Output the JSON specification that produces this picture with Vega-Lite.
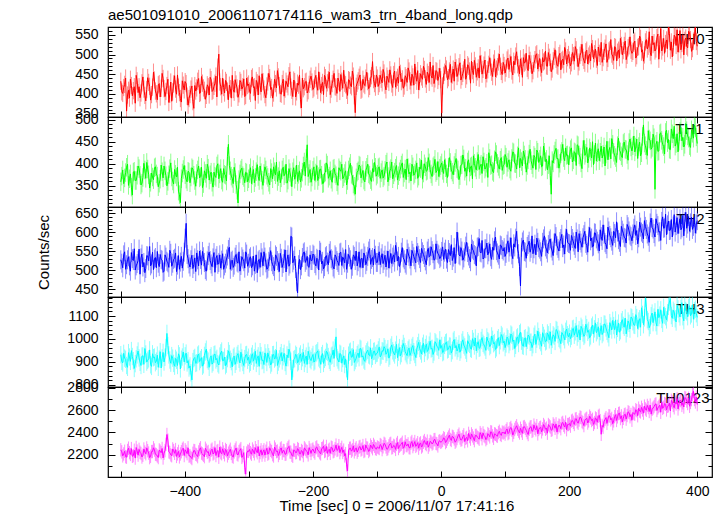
{
"$schema": "https://vega.github.io/schema/vega-lite/v6.json",
"padding": {"left": 35, "top": 8, "right": 5, "bottom": 5},
"background": "white",
"bounds": "flush",
"title": {"text": "ae501091010_20061107174116_wam3_trn_4band_long.qdp", "anchor": "start", "frame": "group", "fontSize": 15, "offset": 0},
"datasets": {
"errs": [{"band":"TH0","err":22},{"band":"TH1","err":21},{"band":"TH2","err":25},{"band":"TH3","err":38},{"band":"TH0123","err":60}]
},
"data": {"values": [
{"t":-500,"TH0":432,"TH1":359,"TH2":528,"TH3":931,"TH0123":2244},
{"t":-497,"TH0":401,"TH1":386,"TH2":507,"TH3":895,"TH0123":2190},
{"t":-494,"TH0":424,"TH1":368,"TH2":549,"TH3":916,"TH0123":2231},
{"t":-491,"TH0":356,"TH1":392,"TH2":515,"TH3":884,"TH0123":2178},
{"t":-488,"TH0":409,"TH1":351,"TH2":536,"TH3":940,"TH0123":2259},
{"t":-485,"TH0":437,"TH1":377,"TH2":498,"TH3":902,"TH0123":2203},
{"t":-482,"TH0":395,"TH1":329,"TH2":531,"TH3":923,"TH0123":2186},
{"t":-479,"TH0":418,"TH1":383,"TH2":557,"TH3":871,"TH0123":2240},
{"t":-476,"TH0":447,"TH1":362,"TH2":512,"TH3":913,"TH0123":2265},
{"t":-473,"TH0":403,"TH1":395,"TH2":526,"TH3":947,"TH0123":2197},
{"t":-470,"TH0":390,"TH1":374,"TH2":490,"TH3":898,"TH0123":2222},
{"t":-467,"TH0":428,"TH1":356,"TH2":543,"TH3":925,"TH0123":2180},
{"t":-464,"TH0":412,"TH1":401,"TH2":521,"TH3":889,"TH0123":2251},
{"t":-461,"TH0":382,"TH1":367,"TH2":505,"TH3":934,"TH0123":2209},
{"t":-458,"TH0":441,"TH1":388,"TH2":538,"TH3":907,"TH0123":2236},
{"t":-455,"TH0":419,"TH1":345,"TH2":563,"TH3":952,"TH0123":2174},
{"t":-452,"TH0":398,"TH1":379,"TH2":517,"TH3":880,"TH0123":2228},
{"t":-449,"TH0":455,"TH1":364,"TH2":502,"TH3":918,"TH0123":2262},
{"t":-446,"TH0":407,"TH1":393,"TH2":534,"TH3":896,"TH0123":2205},
{"t":-443,"TH0":385,"TH1":372,"TH2":550,"TH3":929,"TH0123":2189},
{"t":-440,"TH0":426,"TH1":356,"TH2":510,"TH3":912,"TH0123":2243},
{"t":-437,"TH0":414,"TH1":397,"TH2":529,"TH3":873,"TH0123":2218},
{"t":-434,"TH0":439,"TH1":368,"TH2":495,"TH3":941,"TH0123":2171},
{"t":-431,"TH0":393,"TH1":384,"TH2":541,"TH3":920,"TH0123":2237},
{"t":-428,"TH0":421,"TH1":350,"TH2":524,"TH3":1024,"TH0123":2381},
{"t":-425,"TH0":378,"TH1":375,"TH2":508,"TH3":930,"TH0123":2226},
{"t":-422,"TH0":430,"TH1":402,"TH2":545,"TH3":894,"TH0123":2199},
{"t":-419,"TH0":405,"TH1":361,"TH2":519,"TH3":916,"TH0123":2252},
{"t":-416,"TH0":446,"TH1":387,"TH2":532,"TH3":881,"TH0123":2213},
{"t":-413,"TH0":399,"TH1":370,"TH2":497,"TH3":907,"TH0123":2185},
{"t":-410,"TH0":417,"TH1":338,"TH2":539,"TH3":935,"TH0123":2230},
{"t":-407,"TH0":388,"TH1":312,"TH2":522,"TH3":869,"TH0123":2207},
{"t":-404,"TH0":433,"TH1":379,"TH2":506,"TH3":921,"TH0123":2248},
{"t":-401,"TH0":410,"TH1":396,"TH2":548,"TH3":899,"TH0123":2193},
{"t":-398,"TH0":426,"TH1":365,"TH2":624,"TH3":938,"TH0123":2229},
{"t":-395,"TH0":371,"TH1":383,"TH2":531,"TH3":905,"TH0123":2262},
{"t":-392,"TH0":398,"TH1":357,"TH2":509,"TH3":882,"TH0123":2191},
{"t":-389,"TH0":420,"TH1":391,"TH2":540,"TH3":821,"TH0123":2166},
{"t":-386,"TH0":363,"TH1":374,"TH2":516,"TH3":914,"TH0123":2238},
{"t":-383,"TH0":407,"TH1":349,"TH2":497,"TH3":893,"TH0123":2204},
{"t":-380,"TH0":432,"TH1":386,"TH2":528,"TH3":929,"TH0123":2183},
{"t":-377,"TH0":401,"TH1":368,"TH2":551,"TH3":901,"TH0123":2247},
{"t":-374,"TH0":444,"TH1":392,"TH2":514,"TH3":918,"TH0123":2215},
{"t":-371,"TH0":415,"TH1":355,"TH2":536,"TH3":887,"TH0123":2196},
{"t":-368,"TH0":386,"TH1":378,"TH2":502,"TH3":943,"TH0123":2258},
{"t":-365,"TH0":423,"TH1":399,"TH2":525,"TH3":910,"TH0123":2221},
{"t":-362,"TH0":397,"TH1":363,"TH2":548,"TH3":876,"TH0123":2189},
{"t":-359,"TH0":436,"TH1":381,"TH2":517,"TH3":926,"TH0123":2240},
{"t":-356,"TH0":409,"TH1":347,"TH2":533,"TH3":897,"TH0123":2207},
{"t":-353,"TH0":427,"TH1":372,"TH2":495,"TH3":934,"TH0123":2264},
{"t":-350,"TH0":392,"TH1":395,"TH2":539,"TH3":915,"TH0123":2230},
{"t":-347,"TH0":501,"TH1":366,"TH2":521,"TH3":886,"TH0123":2178},
{"t":-344,"TH0":418,"TH1":389,"TH2":506,"TH3":939,"TH0123":2219},
{"t":-341,"TH0":440,"TH1":358,"TH2":544,"TH3":904,"TH0123":2253},
{"t":-338,"TH0":402,"TH1":376,"TH2":512,"TH3":921,"TH0123":2200},
{"t":-335,"TH0":429,"TH1":361,"TH2":530,"TH3":890,"TH0123":2236},
{"t":-332,"TH0":385,"TH1":444,"TH2":555,"TH3":948,"TH0123":2214},
{"t":-329,"TH0":413,"TH1":384,"TH2":503,"TH3":911,"TH0123":2249},
{"t":-326,"TH0":447,"TH1":367,"TH2":527,"TH3":878,"TH0123":2187},
{"t":-323,"TH0":404,"TH1":392,"TH2":514,"TH3":925,"TH0123":2225},
{"t":-320,"TH0":425,"TH1":353,"TH2":542,"TH3":902,"TH0123":2260},
{"t":-317,"TH0":391,"TH1":311,"TH2":519,"TH3":936,"TH0123":2198},
{"t":-314,"TH0":434,"TH1":377,"TH2":498,"TH3":895,"TH0123":2241},
{"t":-311,"TH0":412,"TH1":390,"TH2":536,"TH3":917,"TH0123":2176},
{"t":-308,"TH0":438,"TH1":369,"TH2":523,"TH3":884,"TH0123":2219},
{"t":-305,"TH0":396,"TH1":381,"TH2":549,"TH3":930,"TH0123":2026},
{"t":-302,"TH0":421,"TH1":359,"TH2":511,"TH3":907,"TH0123":2233},
{"t":-299,"TH0":407,"TH1":378,"TH2":532,"TH3":891,"TH0123":2247},
{"t":-296,"TH0":439,"TH1":355,"TH2":507,"TH3":924,"TH0123":2205},
{"t":-293,"TH0":416,"TH1":387,"TH2":538,"TH3":903,"TH0123":2232},
{"t":-290,"TH0":383,"TH1":369,"TH2":516,"TH3":946,"TH0123":2263},
{"t":-287,"TH0":428,"TH1":398,"TH2":494,"TH3":915,"TH0123":2218},
{"t":-284,"TH0":446,"TH1":362,"TH2":529,"TH3":880,"TH0123":2189},
{"t":-281,"TH0":405,"TH1":380,"TH2":547,"TH3":927,"TH0123":2244},
{"t":-278,"TH0":431,"TH1":351,"TH2":512,"TH3":908,"TH0123":2226},
{"t":-275,"TH0":398,"TH1":393,"TH2":535,"TH3":939,"TH0123":2197},
{"t":-272,"TH0":420,"TH1":374,"TH2":503,"TH3":897,"TH0123":2258},
{"t":-269,"TH0":452,"TH1":358,"TH2":524,"TH3":922,"TH0123":2215},
{"t":-266,"TH0":411,"TH1":389,"TH2":552,"TH3":886,"TH0123":2240},
{"t":-263,"TH0":389,"TH1":366,"TH2":515,"TH3":931,"TH0123":2201},
{"t":-260,"TH0":437,"TH1":382,"TH2":499,"TH3":912,"TH0123":2269},
{"t":-257,"TH0":415,"TH1":404,"TH2":537,"TH3":950,"TH0123":2228},
{"t":-254,"TH0":443,"TH1":371,"TH2":520,"TH3":899,"TH0123":2193},
{"t":-251,"TH0":401,"TH1":357,"TH2":545,"TH3":926,"TH0123":2251},
{"t":-248,"TH0":426,"TH1":386,"TH2":508,"TH3":904,"TH0123":2214},
{"t":-245,"TH0":394,"TH1":373,"TH2":531,"TH3":937,"TH0123":2236},
{"t":-242,"TH0":432,"TH1":399,"TH2":496,"TH3":881,"TH0123":2207},
{"t":-239,"TH0":418,"TH1":363,"TH2":541,"TH3":918,"TH0123":2262},
{"t":-236,"TH0":456,"TH1":380,"TH2":517,"TH3":943,"TH0123":2225},
{"t":-233,"TH0":409,"TH1":348,"TH2":588,"TH3":821,"TH0123":2196},
{"t":-230,"TH0":435,"TH1":391,"TH2":527,"TH3":910,"TH0123":2243},
{"t":-227,"TH0":392,"TH1":375,"TH2":505,"TH3":933,"TH0123":2218},
{"t":-224,"TH0":427,"TH1":360,"TH2":441,"TH3":896,"TH0123":2255},
{"t":-221,"TH0":448,"TH1":384,"TH2":529,"TH3":924,"TH0123":2209},
{"t":-218,"TH0":364,"TH1":367,"TH2":512,"TH3":902,"TH0123":2238},
{"t":-215,"TH0":413,"TH1":395,"TH2":546,"TH3":941,"TH0123":2193},
{"t":-212,"TH0":430,"TH1":372,"TH2":521,"TH3":914,"TH0123":2250},
{"t":-209,"TH0":402,"TH1":443,"TH2":537,"TH3":889,"TH0123":2227},
{"t":-206,"TH0":424,"TH1":378,"TH2":508,"TH3":928,"TH0123":2264},
{"t":-203,"TH0":445,"TH1":358,"TH2":526,"TH3":905,"TH0123":2212},
{"t":-200,"TH0":411,"TH1":385,"TH2":543,"TH3":932,"TH0123":2251},
{"t":-197,"TH0":438,"TH1":362,"TH2":518,"TH3":904,"TH0123":2215},
{"t":-194,"TH0":420,"TH1":396,"TH2":532,"TH3":940,"TH0123":2270},
{"t":-191,"TH0":456,"TH1":371,"TH2":501,"TH3":917,"TH0123":2236},
{"t":-188,"TH0":403,"TH1":388,"TH2":548,"TH3":889,"TH0123":2208},
{"t":-185,"TH0":429,"TH1":355,"TH2":524,"TH3":936,"TH0123":2259},
{"t":-182,"TH0":447,"TH1":379,"TH2":510,"TH3":911,"TH0123":2229},
{"t":-179,"TH0":414,"TH1":402,"TH2":539,"TH3":946,"TH0123":2274},
{"t":-176,"TH0":436,"TH1":367,"TH2":515,"TH3":923,"TH0123":2240},
{"t":-173,"TH0":398,"TH1":384,"TH2":552,"TH3":898,"TH0123":2213},
{"t":-170,"TH0":426,"TH1":358,"TH2":527,"TH3":929,"TH0123":2262},
{"t":-167,"TH0":452,"TH1":390,"TH2":504,"TH3":915,"TH0123":2233},
{"t":-164,"TH0":417,"TH1":373,"TH2":536,"TH3":1009,"TH0123":2286},
{"t":-161,"TH0":440,"TH1":351,"TH2":521,"TH3":908,"TH0123":2245},
{"t":-158,"TH0":406,"TH1":386,"TH2":546,"TH3":937,"TH0123":2219},
{"t":-155,"TH0":432,"TH1":399,"TH2":513,"TH3":894,"TH0123":2266},
{"t":-152,"TH0":460,"TH1":370,"TH2":530,"TH3":926,"TH0123":2241},
{"t":-149,"TH0":423,"TH1":384,"TH2":555,"TH3":913,"TH0123":2210},
{"t":-146,"TH0":396,"TH1":362,"TH2":519,"TH3":821,"TH0123":2055},
{"t":-143,"TH0":434,"TH1":393,"TH2":535,"TH3":942,"TH0123":2257},
{"t":-140,"TH0":418,"TH1":376,"TH2":503,"TH3":920,"TH0123":2232},
{"t":-137,"TH0":445,"TH1":354,"TH2":541,"TH3":953,"TH0123":2279},
{"t":-134,"TH0":352,"TH1":331,"TH2":526,"TH3":905,"TH0123":2248},
{"t":-131,"TH0":427,"TH1":381,"TH2":512,"TH3":931,"TH0123":2223},
{"t":-128,"TH0":442,"TH1":397,"TH2":549,"TH3":918,"TH0123":2268},
{"t":-125,"TH0":409,"TH1":368,"TH2":530,"TH3":955,"TH0123":2242},
{"t":-122,"TH0":437,"TH1":385,"TH2":507,"TH3":926,"TH0123":2282},
{"t":-119,"TH0":421,"TH1":359,"TH2":538,"TH3":902,"TH0123":2236},
{"t":-116,"TH0":455,"TH1":392,"TH2":524,"TH3":944,"TH0123":2261},
{"t":-113,"TH0":413,"TH1":377,"TH2":551,"TH3":930,"TH0123":2229},
{"t":-110,"TH0":439,"TH1":364,"TH2":516,"TH3":961,"TH0123":2287},
{"t":-107,"TH0":482,"TH1":389,"TH2":534,"TH3":924,"TH0123":2254},
{"t":-104,"TH0":426,"TH1":403,"TH2":556,"TH3":947,"TH0123":2276},
{"t":-101,"TH0":448,"TH1":372,"TH2":521,"TH3":936,"TH0123":2250},
{"t":-98,"TH0":419,"TH1":391,"TH2":539,"TH3":952,"TH0123":2263},
{"t":-95,"TH0":447,"TH1":367,"TH2":515,"TH3":921,"TH0123":2291},
{"t":-92,"TH0":428,"TH1":386,"TH2":544,"TH3":948,"TH0123":2246},
{"t":-89,"TH0":453,"TH1":372,"TH2":527,"TH3":966,"TH0123":2302},
{"t":-86,"TH0":410,"TH1":399,"TH2":509,"TH3":933,"TH0123":2270},
{"t":-83,"TH0":438,"TH1":359,"TH2":551,"TH3":957,"TH0123":2255},
{"t":-80,"TH0":461,"TH1":384,"TH2":530,"TH3":925,"TH0123":2296},
{"t":-77,"TH0":425,"TH1":404,"TH2":518,"TH3":974,"TH0123":2261},
{"t":-74,"TH0":449,"TH1":375,"TH2":541,"TH3":939,"TH0123":2284},
{"t":-71,"TH0":417,"TH1":390,"TH2":566,"TH3":951,"TH0123":2248},
{"t":-68,"TH0":442,"TH1":363,"TH2":525,"TH3":918,"TH0123":2309},
{"t":-65,"TH0":470,"TH1":382,"TH2":510,"TH3":962,"TH0123":2277},
{"t":-62,"TH0":431,"TH1":397,"TH2":548,"TH3":936,"TH0123":2295},
{"t":-59,"TH0":414,"TH1":369,"TH2":533,"TH3":980,"TH0123":2258},
{"t":-56,"TH0":446,"TH1":388,"TH2":519,"TH3":944,"TH0123":2316},
{"t":-53,"TH0":429,"TH1":411,"TH2":556,"TH3":927,"TH0123":2281},
{"t":-50,"TH0":458,"TH1":377,"TH2":537,"TH3":960,"TH0123":2264},
{"t":-47,"TH0":421,"TH1":361,"TH2":512,"TH3":941,"TH0123":2304},
{"t":-44,"TH0":443,"TH1":393,"TH2":545,"TH3":971,"TH0123":2273},
{"t":-41,"TH0":476,"TH1":378,"TH2":528,"TH3":932,"TH0123":2318},
{"t":-38,"TH0":432,"TH1":402,"TH2":563,"TH3":955,"TH0123":2287},
{"t":-35,"TH0":410,"TH1":372,"TH2":540,"TH3":985,"TH0123":2259},
{"t":-32,"TH0":451,"TH1":389,"TH2":521,"TH3":948,"TH0123":2306},
{"t":-29,"TH0":437,"TH1":365,"TH2":549,"TH3":968,"TH0123":2280},
{"t":-26,"TH0":462,"TH1":400,"TH2":534,"TH3":937,"TH0123":2327},
{"t":-23,"TH0":424,"TH1":383,"TH2":515,"TH3":977,"TH0123":2291},
{"t":-20,"TH0":449,"TH1":414,"TH2":558,"TH3":952,"TH0123":2268},
{"t":-17,"TH0":481,"TH1":387,"TH2":539,"TH3":990,"TH0123":2320},
{"t":-14,"TH0":440,"TH1":371,"TH2":552,"TH3":959,"TH0123":2296},
{"t":-11,"TH0":426,"TH1":396,"TH2":527,"TH3":943,"TH0123":2334},
{"t":-8,"TH0":459,"TH1":380,"TH2":570,"TH3":982,"TH0123":2302},
{"t":-5,"TH0":434,"TH1":405,"TH2":545,"TH3":964,"TH0123":2279},
{"t":-2,"TH0":465,"TH1":390,"TH2":531,"TH3":996,"TH0123":2325},
{"t":1,"TH0":351,"TH1":402,"TH2":550,"TH3":971,"TH0123":2318},
{"t":4,"TH0":447,"TH1":378,"TH2":529,"TH3":944,"TH0123":2352},
{"t":7,"TH0":472,"TH1":391,"TH2":556,"TH3":983,"TH0123":2309},
{"t":10,"TH0":436,"TH1":369,"TH2":521,"TH3":952,"TH0123":2341},
{"t":13,"TH0":458,"TH1":414,"TH2":547,"TH3":969,"TH0123":2376},
{"t":16,"TH0":429,"TH1":386,"TH2":568,"TH3":938,"TH0123":2328},
{"t":19,"TH0":463,"TH1":375,"TH2":535,"TH3":990,"TH0123":2359},
{"t":22,"TH0":481,"TH1":403,"TH2":518,"TH3":961,"TH0123":2312},
{"t":25,"TH0":444,"TH1":389,"TH2":601,"TH3":947,"TH0123":2345},
{"t":28,"TH0":469,"TH1":364,"TH2":541,"TH3":978,"TH0123":2384},
{"t":31,"TH0":435,"TH1":397,"TH2":560,"TH3":953,"TH0123":2331},
{"t":34,"TH0":452,"TH1":420,"TH2":527,"TH3":996,"TH0123":2362},
{"t":37,"TH0":488,"TH1":383,"TH2":549,"TH3":965,"TH0123":2318},
{"t":40,"TH0":446,"TH1":372,"TH2":574,"TH3":937,"TH0123":2355},
{"t":43,"TH0":470,"TH1":409,"TH2":538,"TH3":982,"TH0123":2391},
{"t":46,"TH0":427,"TH1":393,"TH2":523,"TH3":958,"TH0123":2340},
{"t":49,"TH0":459,"TH1":366,"TH2":556,"TH3":1001,"TH0123":2369},
{"t":52,"TH0":485,"TH1":401,"TH2":542,"TH3":969,"TH0123":2326},
{"t":55,"TH0":442,"TH1":386,"TH2":512,"TH3":948,"TH0123":2374},
{"t":58,"TH0":466,"TH1":421,"TH2":563,"TH3":988,"TH0123":2351},
{"t":61,"TH0":497,"TH1":395,"TH2":548,"TH3":962,"TH0123":2398},
{"t":64,"TH0":450,"TH1":378,"TH2":579,"TH3":1006,"TH0123":2344},
{"t":67,"TH0":473,"TH1":404,"TH2":533,"TH3":974,"TH0123":2371},
{"t":70,"TH0":438,"TH1":392,"TH2":557,"TH3":950,"TH0123":2335},
{"t":73,"TH0":461,"TH1":369,"TH2":541,"TH3":992,"TH0123":2389},
{"t":76,"TH0":492,"TH1":412,"TH2":570,"TH3":966,"TH0123":2360},
{"t":79,"TH0":455,"TH1":398,"TH2":529,"TH3":1013,"TH0123":2402},
{"t":82,"TH0":478,"TH1":380,"TH2":553,"TH3":979,"TH0123":2347},
{"t":85,"TH0":443,"TH1":427,"TH2":588,"TH3":954,"TH0123":2383},
{"t":88,"TH0":469,"TH1":401,"TH2":546,"TH3":997,"TH0123":2366},
{"t":91,"TH0":501,"TH1":388,"TH2":530,"TH3":971,"TH0123":2410},
{"t":94,"TH0":457,"TH1":414,"TH2":565,"TH3":1019,"TH0123":2373},
{"t":97,"TH0":480,"TH1":396,"TH2":551,"TH3":983,"TH0123":2394},
{"t":100,"TH0":453,"TH1":421,"TH2":537,"TH3":962,"TH0123":2385},
{"t":103,"TH0":486,"TH1":392,"TH2":569,"TH3":1008,"TH0123":2431},
{"t":106,"TH0":462,"TH1":409,"TH2":548,"TH3":975,"TH0123":2398},
{"t":109,"TH0":495,"TH1":383,"TH2":586,"TH3":1021,"TH0123":2444},
{"t":112,"TH0":448,"TH1":427,"TH2":531,"TH3":989,"TH0123":2376},
{"t":115,"TH0":474,"TH1":401,"TH2":562,"TH3":958,"TH0123":2426},
{"t":118,"TH0":507,"TH1":388,"TH2":603,"TH3":1004,"TH0123":2459},
{"t":121,"TH0":466,"TH1":436,"TH2":544,"TH3":980,"TH0123":2411},
{"t":124,"TH0":489,"TH1":412,"TH2":459,"TH3":1029,"TH0123":2437},
{"t":127,"TH0":442,"TH1":395,"TH2":575,"TH3":971,"TH0123":2392},
{"t":130,"TH0":478,"TH1":420,"TH2":550,"TH3":1001,"TH0123":2452},
{"t":133,"TH0":503,"TH1":381,"TH2":532,"TH3":966,"TH0123":2418},
{"t":136,"TH0":459,"TH1":409,"TH2":568,"TH3":1017,"TH0123":2381},
{"t":139,"TH0":485,"TH1":433,"TH2":548,"TH3":985,"TH0123":2446},
{"t":142,"TH0":451,"TH1":398,"TH2":591,"TH3":962,"TH0123":2409},
{"t":145,"TH0":477,"TH1":419,"TH2":557,"TH3":1011,"TH0123":2465},
{"t":148,"TH0":499,"TH1":387,"TH2":541,"TH3":976,"TH0123":2423},
{"t":151,"TH0":463,"TH1":426,"TH2":574,"TH3":1034,"TH0123":2387},
{"t":154,"TH0":490,"TH1":410,"TH2":556,"TH3":993,"TH0123":2441},
{"t":157,"TH0":454,"TH1":393,"TH2":537,"TH3":968,"TH0123":2405},
{"t":160,"TH0":481,"TH1":440,"TH2":583,"TH3":1015,"TH0123":2470},
{"t":163,"TH0":509,"TH1":405,"TH2":562,"TH3":987,"TH0123":2428},
{"t":166,"TH0":470,"TH1":386,"TH2":546,"TH3":1026,"TH0123":2393},
{"t":169,"TH0":493,"TH1":418,"TH2":578,"TH3":996,"TH0123":2459},
{"t":172,"TH0":456,"TH1":331,"TH2":559,"TH3":972,"TH0123":2419},
{"t":175,"TH0":484,"TH1":402,"TH2":539,"TH3":1018,"TH0123":2476},
{"t":178,"TH0":512,"TH1":429,"TH2":597,"TH3":989,"TH0123":2437},
{"t":181,"TH0":473,"TH1":411,"TH2":565,"TH3":1037,"TH0123":2402},
{"t":184,"TH0":497,"TH1":390,"TH2":551,"TH3":1002,"TH0123":2465},
{"t":187,"TH0":461,"TH1":423,"TH2":584,"TH3":979,"TH0123":2433},
{"t":190,"TH0":488,"TH1":444,"TH2":560,"TH3":1021,"TH0123":2489},
{"t":193,"TH0":518,"TH1":407,"TH2":543,"TH3":996,"TH0123":2448},
{"t":196,"TH0":476,"TH1":419,"TH2":608,"TH3":1043,"TH0123":2424},
{"t":199,"TH0":500,"TH1":398,"TH2":571,"TH3":1009,"TH0123":2471},
{"t":202,"TH0":471,"TH1":432,"TH2":553,"TH3":1001,"TH0123":2456},
{"t":205,"TH0":505,"TH1":404,"TH2":584,"TH3":1043,"TH0123":2508},
{"t":208,"TH0":483,"TH1":427,"TH2":566,"TH3":1016,"TH0123":2471},
{"t":211,"TH0":512,"TH1":396,"TH2":601,"TH3":1058,"TH0123":2523},
{"t":214,"TH0":469,"TH1":441,"TH2":549,"TH3":1024,"TH0123":2482},
{"t":217,"TH0":498,"TH1":415,"TH2":579,"TH3":995,"TH0123":2537},
{"t":220,"TH0":526,"TH1":389,"TH2":561,"TH3":1047,"TH0123":2497},
{"t":223,"TH0":485,"TH1":453,"TH2":594,"TH3":1011,"TH0123":2461},
{"t":226,"TH0":507,"TH1":424,"TH2":571,"TH3":1064,"TH0123":2519},
{"t":229,"TH0":476,"TH1":402,"TH2":548,"TH3":1029,"TH0123":2484},
{"t":232,"TH0":501,"TH1":436,"TH2":613,"TH3":1005,"TH0123":2545},
{"t":235,"TH0":528,"TH1":413,"TH2":585,"TH3":1052,"TH0123":2506},
{"t":238,"TH0":489,"TH1":398,"TH2":564,"TH3":1021,"TH0123":2472},
{"t":241,"TH0":514,"TH1":447,"TH2":598,"TH3":1070,"TH0123":2529},
{"t":244,"TH0":472,"TH1":425,"TH2":577,"TH3":1036,"TH0123":2491},
{"t":247,"TH0":503,"TH1":407,"TH2":551,"TH3":1009,"TH0123":2553},
{"t":250,"TH0":531,"TH1":440,"TH2":589,"TH3":1058,"TH0123":2383},
{"t":253,"TH0":492,"TH1":421,"TH2":620,"TH3":1027,"TH0123":2447},
{"t":256,"TH0":516,"TH1":395,"TH2":573,"TH3":1064,"TH0123":2516},
{"t":259,"TH0":480,"TH1":451,"TH2":557,"TH3":1033,"TH0123":2481},
{"t":262,"TH0":509,"TH1":430,"TH2":604,"TH3":1005,"TH0123":2549},
{"t":265,"TH0":538,"TH1":411,"TH2":586,"TH3":1056,"TH0123":2512},
{"t":268,"TH0":496,"TH1":444,"TH2":566,"TH3":1081,"TH0123":2478},
{"t":271,"TH0":520,"TH1":419,"TH2":597,"TH3":1040,"TH0123":2541},
{"t":274,"TH0":484,"TH1":403,"TH2":628,"TH3":1017,"TH0123":2507},
{"t":277,"TH0":511,"TH1":458,"TH2":581,"TH3":1069,"TH0123":2568},
{"t":280,"TH0":541,"TH1":427,"TH2":563,"TH3":1036,"TH0123":2524},
{"t":283,"TH0":499,"TH1":414,"TH2":606,"TH3":1084,"TH0123":2495},
{"t":286,"TH0":523,"TH1":449,"TH2":587,"TH3":1051,"TH0123":2557},
{"t":289,"TH0":487,"TH1":432,"TH2":572,"TH3":1022,"TH0123":2519},
{"t":292,"TH0":517,"TH1":408,"TH2":615,"TH3":1078,"TH0123":2584},
{"t":295,"TH0":545,"TH1":456,"TH2":593,"TH3":1043,"TH0123":2540},
{"t":298,"TH0":503,"TH1":429,"TH2":578,"TH3":1092,"TH0123":2509},
{"t":301,"TH0":529,"TH1":463,"TH2":611,"TH3":1061,"TH0123":2568},
{"t":304,"TH0":491,"TH1":438,"TH2":592,"TH3":1106,"TH0123":2603},
{"t":307,"TH0":518,"TH1":412,"TH2":570,"TH3":1045,"TH0123":2549},
{"t":310,"TH0":547,"TH1":449,"TH2":627,"TH3":1088,"TH0123":2591},
{"t":313,"TH0":506,"TH1":425,"TH2":601,"TH3":1136,"TH0123":2624},
{"t":316,"TH0":483,"TH1":488,"TH2":583,"TH3":1062,"TH0123":2572},
{"t":319,"TH0":532,"TH1":441,"TH2":616,"TH3":1177,"TH0123":2610},
{"t":322,"TH0":514,"TH1":419,"TH2":596,"TH3":1084,"TH0123":2641},
{"t":325,"TH0":558,"TH1":456,"TH2":574,"TH3":1049,"TH0123":2587},
{"t":328,"TH0":497,"TH1":433,"TH2":638,"TH3":1101,"TH0123":2563},
{"t":331,"TH0":525,"TH1":467,"TH2":609,"TH3":1071,"TH0123":2618},
{"t":334,"TH0":509,"TH1":342,"TH2":588,"TH3":1118,"TH0123":2649},
{"t":337,"TH0":543,"TH1":451,"TH2":624,"TH3":1056,"TH0123":2596},
{"t":340,"TH0":488,"TH1":429,"TH2":601,"TH3":1093,"TH0123":2632},
{"t":343,"TH0":566,"TH1":470,"TH2":579,"TH3":1127,"TH0123":2580},
{"t":346,"TH0":519,"TH1":444,"TH2":641,"TH3":1068,"TH0123":2615},
{"t":349,"TH0":503,"TH1":422,"TH2":612,"TH3":1104,"TH0123":2658},
{"t":352,"TH0":537,"TH1":476,"TH2":594,"TH3":1083,"TH0123":2601},
{"t":355,"TH0":572,"TH1":455,"TH2":630,"TH3":1142,"TH0123":2638},
{"t":358,"TH0":511,"TH1":432,"TH2":606,"TH3":1176,"TH0123":2592},
{"t":361,"TH0":494,"TH1":468,"TH2":588,"TH3":1090,"TH0123":2671},
{"t":364,"TH0":549,"TH1":485,"TH2":647,"TH3":1117,"TH0123":2620},
{"t":367,"TH0":523,"TH1":446,"TH2":618,"TH3":1074,"TH0123":2654},
{"t":370,"TH0":506,"TH1":427,"TH2":597,"TH3":1131,"TH0123":2610},
{"t":373,"TH0":561,"TH1":473,"TH2":636,"TH3":1096,"TH0123":2689},
{"t":376,"TH0":528,"TH1":452,"TH2":612,"TH3":1158,"TH0123":2641},
{"t":379,"TH0":499,"TH1":438,"TH2":591,"TH3":1079,"TH0123":2627},
{"t":382,"TH0":542,"TH1":491,"TH2":653,"TH3":1124,"TH0123":2706},
{"t":385,"TH0":517,"TH1":463,"TH2":622,"TH3":1097,"TH0123":2658},
{"t":388,"TH0":556,"TH1":441,"TH2":603,"TH3":1145,"TH0123":2634},
{"t":391,"TH0":508,"TH1":477,"TH2":640,"TH3":1109,"TH0123":2693},
{"t":394,"TH0":534,"TH1":458,"TH2":616,"TH3":1086,"TH0123":2768},
{"t":397,"TH0":569,"TH1":482,"TH2":598,"TH3":1130,"TH0123":2672},
{"t":400,"TH0":521,"TH1":446,"TH2":631,"TH3":1094,"TH0123":2649},
{"t":-498.5,"TH0":405,"TH1":372,"TH2":519,"TH3":902,"TH0123":2226},
{"t":-495.5,"TH0":416,"TH1":355,"TH2":541,"TH3":937,"TH0123":2207},
{"t":-492.5,"TH0":440,"TH1":380,"TH2":503,"TH3":911,"TH0123":2183},
{"t":-489.5,"TH0":397,"TH1":399,"TH2":528,"TH3":876,"TH0123":2238},
{"t":-486.5,"TH0":389,"TH1":366,"TH2":512,"TH3":921,"TH0123":2219},
{"t":-483.5,"TH0":421,"TH1":347,"TH2":547,"TH3":949,"TH0123":2255},
{"t":-480.5,"TH0":408,"TH1":381,"TH2":526,"TH3":905,"TH0123":2192},
{"t":-477.5,"TH0":376,"TH1":362,"TH2":501,"TH3":892,"TH0123":2170},
{"t":-474.5,"TH0":433,"TH1":374,"TH2":518,"TH3":930,"TH0123":2233},
{"t":-471.5,"TH0":418,"TH1":389,"TH2":556,"TH3":917,"TH0123":2248},
{"t":-468.5,"TH0":402,"TH1":352,"TH2":533,"TH3":884,"TH0123":2211},
{"t":-465.5,"TH0":443,"TH1":369,"TH2":509,"TH3":926,"TH0123":2196},
{"t":-462.5,"TH0":396,"TH1":386,"TH2":494,"TH3":958,"TH0123":2224},
{"t":-459.5,"TH0":411,"TH1":403,"TH2":539,"TH3":899,"TH0123":2261},
{"t":-456.5,"TH0":429,"TH1":375,"TH2":525,"TH3":913,"TH0123":2215},
{"t":-453.5,"TH0":384,"TH1":358,"TH2":512,"TH3":887,"TH0123":2187},
{"t":-450.5,"TH0":417,"TH1":370,"TH2":548,"TH3":935,"TH0123":2229},
{"t":-447.5,"TH0":435,"TH1":391,"TH2":530,"TH3":921,"TH0123":2242},
{"t":-444.5,"TH0":400,"TH1":377,"TH2":507,"TH3":903,"TH0123":2201},
{"t":-441.5,"TH0":423,"TH1":348,"TH2":519,"TH3":876,"TH0123":2175},
{"t":-438.5,"TH0":392,"TH1":365,"TH2":542,"TH3":944,"TH0123":2232},
{"t":-435.5,"TH0":452,"TH1":382,"TH2":527,"TH3":917,"TH0123":2256},
{"t":-432.5,"TH0":413,"TH1":395,"TH2":498,"TH3":899,"TH0123":2214},
{"t":-429.5,"TH0":406,"TH1":373,"TH2":535,"TH3":962,"TH0123":2293},
{"t":-426.5,"TH0":437,"TH1":360,"TH2":520,"TH3":971,"TH0123":2330},
{"t":-423.5,"TH0":399,"TH1":389,"TH2":553,"TH3":908,"TH0123":2219},
{"t":-420.5,"TH0":381,"TH1":370,"TH2":511,"TH3":927,"TH0123":2191},
{"t":-417.5,"TH0":425,"TH1":354,"TH2":529,"TH3":893,"TH0123":2237},
{"t":-414.5,"TH0":412,"TH1":376,"TH2":546,"TH3":915,"TH0123":2246},
{"t":-411.5,"TH0":448,"TH1":392,"TH2":514,"TH3":884,"TH0123":2208},
{"t":-408.5,"TH0":403,"TH1":330,"TH2":503,"TH3":926,"TH0123":2181},
{"t":-405.5,"TH0":379,"TH1":366,"TH2":537,"TH3":911,"TH0123":2227},
{"t":-402.5,"TH0":422,"TH1":387,"TH2":524,"TH3":943,"TH0123":2259},
{"t":-399.5,"TH0":431,"TH1":375,"TH2":585,"TH3":926,"TH0123":2244},
{"t":-396.5,"TH0":394,"TH1":359,"TH2":542,"TH3":895,"TH0123":2210},
{"t":-393.5,"TH0":388,"TH1":381,"TH2":517,"TH3":873,"TH0123":2188},
{"t":-390.5,"TH0":412,"TH1":370,"TH2":528,"TH3":852,"TH0123":2176},
{"t":-387.5,"TH0":380,"TH1":388,"TH2":505,"TH3":901,"TH0123":2213},
{"t":-384.5,"TH0":421,"TH1":362,"TH2":533,"TH3":919,"TH0123":2235},
{"t":-381.5,"TH0":415,"TH1":378,"TH2":546,"TH3":896,"TH0123":2198},
{"t":-378.5,"TH0":439,"TH1":395,"TH2":512,"TH3":934,"TH0123":2225},
{"t":-375.5,"TH0":403,"TH1":371,"TH2":529,"TH3":910,"TH0123":2262},
{"t":-372.5,"TH0":427,"TH1":346,"TH2":550,"TH3":881,"TH0123":2207},
{"t":-369.5,"TH0":409,"TH1":384,"TH2":521,"TH3":928,"TH0123":2183},
{"t":-366.5,"TH0":396,"TH1":367,"TH2":498,"TH3":955,"TH0123":2240},
{"t":-363.5,"TH0":418,"TH1":390,"TH2":539,"TH3":903,"TH0123":2229},
{"t":-360.5,"TH0":442,"TH1":375,"TH2":526,"TH3":918,"TH0123":2201},
{"t":-357.5,"TH0":406,"TH1":358,"TH2":510,"TH3":890,"TH0123":2250},
{"t":-354.5,"TH0":419,"TH1":381,"TH2":547,"TH3":931,"TH0123":2216},
{"t":-351.5,"TH0":445,"TH1":369,"TH2":532,"TH3":908,"TH0123":2193},
{"t":-348.5,"TH0":468,"TH1":400,"TH2":516,"TH3":892,"TH0123":2237},
{"t":-345.5,"TH0":430,"TH1":377,"TH2":541,"TH3":925,"TH0123":2268},
{"t":-342.5,"TH0":399,"TH1":363,"TH2":527,"TH3":947,"TH0123":2209},
{"t":-339.5,"TH0":416,"TH1":389,"TH2":503,"TH3":906,"TH0123":2224},
{"t":-336.5,"TH0":434,"TH1":374,"TH2":519,"TH3":883,"TH0123":2247},
{"t":-333.5,"TH0":407,"TH1":417,"TH2":538,"TH3":914,"TH0123":2190},
{"t":-330.5,"TH0":422,"TH1":396,"TH2":561,"TH3":936,"TH0123":2231},
{"t":-327.5,"TH0":389,"TH1":372,"TH2":524,"TH3":901,"TH0123":2212},
{"t":-324.5,"TH0":411,"TH1":355,"TH2":508,"TH3":919,"TH0123":2179},
{"t":-321.5,"TH0":436,"TH1":380,"TH2":535,"TH3":889,"TH0123":2243},
{"t":-318.5,"TH0":415,"TH1":340,"TH2":522,"TH3":928,"TH0123":2206},
{"t":-315.5,"TH0":400,"TH1":364,"TH2":549,"TH3":911,"TH0123":2228},
{"t":-312.5,"TH0":429,"TH1":386,"TH2":513,"TH3":942,"TH0123":2255},
{"t":-309.5,"TH0":418,"TH1":373,"TH2":530,"TH3":897,"TH0123":2191},
{"t":-306.5,"TH0":393,"TH1":357,"TH2":506,"TH3":914,"TH0123":2087},
{"t":-303.5,"TH0":440,"TH1":379,"TH2":543,"TH3":932,"TH0123":2215},
{"t":-300.5,"TH0":425,"TH1":366,"TH2":519,"TH3":920,"TH0123":2230},
{"t":-297.5,"TH0":401,"TH1":391,"TH2":536,"TH3":898,"TH0123":2218},
{"t":-294.5,"TH0":443,"TH1":374,"TH2":512,"TH3":935,"TH0123":2251},
{"t":-291.5,"TH0":418,"TH1":357,"TH2":498,"TH3":917,"TH0123":2209},
{"t":-288.5,"TH0":434,"TH1":382,"TH2":541,"TH3":893,"TH0123":2236},
{"t":-285.5,"TH0":397,"TH1":371,"TH2":525,"TH3":926,"TH0123":2272},
{"t":-282.5,"TH0":420,"TH1":395,"TH2":508,"TH3":944,"TH0123":2220},
{"t":-279.5,"TH0":451,"TH1":363,"TH2":533,"TH3":905,"TH0123":2197},
{"t":-276.5,"TH0":412,"TH1":378,"TH2":549,"TH3":888,"TH0123":2244},
{"t":-273.5,"TH0":390,"TH1":386,"TH2":520,"TH3":921,"TH0123":2231},
{"t":-270.5,"TH0":430,"TH1":369,"TH2":506,"TH3":939,"TH0123":2205},
{"t":-267.5,"TH0":441,"TH1":352,"TH2":536,"TH3":910,"TH0123":2262},
{"t":-264.5,"TH0":416,"TH1":380,"TH2":523,"TH3":895,"TH0123":2228},
{"t":-261.5,"TH0":402,"TH1":393,"TH2":510,"TH3":932,"TH0123":2189},
{"t":-258.5,"TH0":426,"TH1":375,"TH2":541,"TH3":918,"TH0123":2250},
{"t":-255.5,"TH0":459,"TH1":360,"TH2":526,"TH3":884,"TH0123":2233},
{"t":-252.5,"TH0":421,"TH1":384,"TH2":497,"TH3":913,"TH0123":2214},
{"t":-249.5,"TH0":399,"TH1":368,"TH2":532,"TH3":940,"TH0123":2261},
{"t":-246.5,"TH0":437,"TH1":392,"TH2":518,"TH3":922,"TH0123":2238},
{"t":-243.5,"TH0":412,"TH1":377,"TH2":554,"TH3":897,"TH0123":2204},
{"t":-240.5,"TH0":425,"TH1":356,"TH2":529,"TH3":930,"TH0123":2247},
{"t":-237.5,"TH0":446,"TH1":389,"TH2":511,"TH3":955,"TH0123":2275},
{"t":-234.5,"TH0":417,"TH1":370,"TH2":590,"TH3":902,"TH0123":2222},
{"t":-231.5,"TH0":393,"TH1":382,"TH2":520,"TH3":870,"TH0123":2186},
{"t":-228.5,"TH0":431,"TH1":365,"TH2":538,"TH3":914,"TH0123":2239},
{"t":-225.5,"TH0":405,"TH1":397,"TH2":470,"TH3":927,"TH0123":2221},
{"t":-222.5,"TH0":422,"TH1":376,"TH2":515,"TH3":901,"TH0123":2246},
{"t":-219.5,"TH0":385,"TH1":359,"TH2":502,"TH3":934,"TH0123":2208},
{"t":-216.5,"TH0":440,"TH1":381,"TH2":534,"TH3":918,"TH0123":2229},
{"t":-213.5,"TH0":418,"TH1":404,"TH2":549,"TH3":893,"TH0123":2262},
{"t":-210.5,"TH0":432,"TH1":412,"TH2":527,"TH3":925,"TH0123":2234},
{"t":-207.5,"TH0":408,"TH1":371,"TH2":510,"TH3":946,"TH0123":2199},
{"t":-204.5,"TH0":437,"TH1":387,"TH2":541,"TH3":912,"TH0123":2241},
{"t":-201.5,"TH0":430,"TH1":370,"TH2":526,"TH3":921,"TH0123":2243},
{"t":-198.5,"TH0":415,"TH1":393,"TH2":540,"TH3":899,"TH0123":2229},
{"t":-195.5,"TH0":447,"TH1":379,"TH2":512,"TH3":936,"TH0123":2262},
{"t":-192.5,"TH0":409,"TH1":362,"TH2":529,"TH3":948,"TH0123":2241},
{"t":-189.5,"TH0":433,"TH1":387,"TH2":553,"TH3":910,"TH0123":2218},
{"t":-186.5,"TH0":421,"TH1":374,"TH2":517,"TH3":927,"TH0123":2254},
{"t":-183.5,"TH0":398,"TH1":356,"TH2":504,"TH3":893,"TH0123":2276},
{"t":-180.5,"TH0":441,"TH1":381,"TH2":536,"TH3":919,"TH0123":2235},
{"t":-177.5,"TH0":428,"TH1":397,"TH2":522,"TH3":941,"TH0123":2212},
{"t":-174.5,"TH0":455,"TH1":372,"TH2":545,"TH3":907,"TH0123":2249},
{"t":-171.5,"TH0":412,"TH1":365,"TH2":531,"TH3":925,"TH0123":2268},
{"t":-168.5,"TH0":437,"TH1":388,"TH2":509,"TH3":951,"TH0123":2227},
{"t":-165.5,"TH0":418,"TH1":377,"TH2":541,"TH3":962,"TH0123":2253},
{"t":-162.5,"TH0":401,"TH1":359,"TH2":526,"TH3":918,"TH0123":2239},
{"t":-159.5,"TH0":431,"TH1":391,"TH2":513,"TH3":899,"TH0123":2281},
{"t":-156.5,"TH0":449,"TH1":383,"TH2":548,"TH3":933,"TH0123":2246},
{"t":-153.5,"TH0":414,"TH1":366,"TH2":535,"TH3":914,"TH0123":2221},
{"t":-150.5,"TH0":427,"TH1":378,"TH2":520,"TH3":888,"TH0123":2190},
{"t":-147.5,"TH0":409,"TH1":352,"TH2":503,"TH3":870,"TH0123":2110},
{"t":-144.5,"TH0":436,"TH1":386,"TH2":542,"TH3":929,"TH0123":2235},
{"t":-141.5,"TH0":422,"TH1":401,"TH2":528,"TH3":946,"TH0123":2259},
{"t":-138.5,"TH0":458,"TH1":373,"TH2":511,"TH3":922,"TH0123":2244},
{"t":-135.5,"TH0":395,"TH1":349,"TH2":537,"TH3":897,"TH0123":2226},
{"t":-132.5,"TH0":419,"TH1":368,"TH2":551,"TH3":916,"TH0123":2262},
{"t":-129.5,"TH0":433,"TH1":384,"TH2":523,"TH3":938,"TH0123":2240},
{"t":-126.5,"TH0":448,"TH1":395,"TH2":508,"TH3":959,"TH0123":2274},
{"t":-123.5,"TH0":412,"TH1":377,"TH2":532,"TH3":921,"TH0123":2251},
{"t":-120.5,"TH0":425,"TH1":363,"TH2":546,"TH3":908,"TH0123":2229},
{"t":-117.5,"TH0":440,"TH1":385,"TH2":515,"TH3":934,"TH0123":2287},
{"t":-114.5,"TH0":431,"TH1":399,"TH2":537,"TH3":951,"TH0123":2258},
{"t":-111.5,"TH0":419,"TH1":374,"TH2":558,"TH3":926,"TH0123":2243},
{"t":-108.5,"TH0":446,"TH1":360,"TH2":529,"TH3":913,"TH0123":2271},
{"t":-105.5,"TH0":436,"TH1":381,"TH2":514,"TH3":945,"TH0123":2292},
{"t":-102.5,"TH0":417,"TH1":392,"TH2":540,"TH3":928,"TH0123":2255},
{"t":-99.5,"TH0":440,"TH1":376,"TH2":521,"TH3":938,"TH0123":2270},
{"t":-96.5,"TH0":426,"TH1":393,"TH2":549,"TH3":965,"TH0123":2256},
{"t":-93.5,"TH0":437,"TH1":380,"TH2":533,"TH3":929,"TH0123":2283},
{"t":-90.5,"TH0":462,"TH1":368,"TH2":518,"TH3":946,"TH0123":2271},
{"t":-87.5,"TH0":422,"TH1":385,"TH2":540,"TH3":958,"TH0123":2294},
{"t":-84.5,"TH0":445,"TH1":404,"TH2":527,"TH3":941,"TH0123":2248},
{"t":-81.5,"TH0":429,"TH1":371,"TH2":506,"TH3":916,"TH0123":2279},
{"t":-78.5,"TH0":448,"TH1":389,"TH2":545,"TH3":963,"TH0123":2302},
{"t":-75.5,"TH0":416,"TH1":366,"TH2":535,"TH3":948,"TH0123":2265},
{"t":-72.5,"TH0":458,"TH1":381,"TH2":522,"TH3":930,"TH0123":2277},
{"t":-69.5,"TH0":435,"TH1":396,"TH2":549,"TH3":976,"TH0123":2293},
{"t":-66.5,"TH0":427,"TH1":373,"TH2":537,"TH3":942,"TH0123":2256},
{"t":-63.5,"TH0":452,"TH1":388,"TH2":519,"TH3":926,"TH0123":2288},
{"t":-60.5,"TH0":438,"TH1":402,"TH2":560,"TH3":958,"TH0123":2311},
{"t":-57.5,"TH0":420,"TH1":379,"TH2":528,"TH3":967,"TH0123":2270},
{"t":-54.5,"TH0":441,"TH1":364,"TH2":514,"TH3":935,"TH0123":2283},
{"t":-51.5,"TH0":466,"TH1":391,"TH2":546,"TH3":952,"TH0123":2297},
{"t":-48.5,"TH0":433,"TH1":381,"TH2":530,"TH3":928,"TH0123":2261},
{"t":-45.5,"TH0":450,"TH1":399,"TH2":553,"TH3":963,"TH0123":2318},
{"t":-42.5,"TH0":422,"TH1":374,"TH2":536,"TH3":944,"TH0123":2292},
{"t":-39.5,"TH0":447,"TH1":386,"TH2":520,"TH3":919,"TH0123":2275},
{"t":-36.5,"TH0":459,"TH1":367,"TH2":547,"TH3":970,"TH0123":2308},
{"t":-33.5,"TH0":431,"TH1":392,"TH2":531,"TH3":958,"TH0123":2296},
{"t":-30.5,"TH0":443,"TH1":408,"TH2":558,"TH3":934,"TH0123":2269},
{"t":-27.5,"TH0":470,"TH1":379,"TH2":542,"TH3":981,"TH0123":2312},
{"t":-24.5,"TH0":438,"TH1":393,"TH2":525,"TH3":962,"TH0123":2301},
{"t":-21.5,"TH0":455,"TH1":385,"TH2":551,"TH3":945,"TH0123":2322},
{"t":-18.5,"TH0":429,"TH1":402,"TH2":536,"TH3":973,"TH0123":2289},
{"t":-15.5,"TH0":446,"TH1":377,"TH2":562,"TH3":956,"TH0123":2313},
{"t":-12.5,"TH0":472,"TH1":393,"TH2":544,"TH3":932,"TH0123":2305},
{"t":-9.5,"TH0":438,"TH1":410,"TH2":529,"TH3":988,"TH0123":2336},
{"t":-6.5,"TH0":457,"TH1":384,"TH2":553,"TH3":967,"TH0123":2298},
{"t":-3.5,"TH0":444,"TH1":371,"TH2":541,"TH3":950,"TH0123":2319},
{"t":-0.5,"TH0":436,"TH1":396,"TH2":535,"TH3":959,"TH0123":2311},
{"t":2.5,"TH0":420,"TH1":385,"TH2":562,"TH3":940,"TH0123":2329},
{"t":5.5,"TH0":455,"TH1":409,"TH2":548,"TH3":972,"TH0123":2343},
{"t":8.5,"TH0":463,"TH1":377,"TH2":530,"TH3":986,"TH0123":2320},
{"t":11.5,"TH0":441,"TH1":392,"TH2":555,"TH3":955,"TH0123":2358},
{"t":14.5,"TH0":475,"TH1":403,"TH2":539,"TH3":968,"TH0123":2337},
{"t":17.5,"TH0":448,"TH1":381,"TH2":526,"TH3":949,"TH0123":2365},
{"t":20.5,"TH0":432,"TH1":396,"TH2":560,"TH3":997,"TH0123":2342},
{"t":23.5,"TH0":466,"TH1":412,"TH2":544,"TH3":971,"TH0123":2324},
{"t":26.5,"TH0":453,"TH1":386,"TH2":575,"TH3":958,"TH0123":2369},
{"t":29.5,"TH0":479,"TH1":373,"TH2":538,"TH3":942,"TH0123":2350},
{"t":32.5,"TH0":444,"TH1":398,"TH2":551,"TH3":985,"TH0123":2336},
{"t":35.5,"TH0":461,"TH1":411,"TH2":533,"TH3":973,"TH0123":2378},
{"t":38.5,"TH0":437,"TH1":390,"TH2":564,"TH3":951,"TH0123":2347},
{"t":41.5,"TH0":474,"TH1":404,"TH2":547,"TH3":992,"TH0123":2325},
{"t":44.5,"TH0":458,"TH1":381,"TH2":531,"TH3":976,"TH0123":2363},
{"t":47.5,"TH0":483,"TH1":395,"TH2":569,"TH3":955,"TH0123":2386},
{"t":50.5,"TH0":449,"TH1":418,"TH2":552,"TH3":989,"TH0123":2349},
{"t":53.5,"TH0":471,"TH1":392,"TH2":539,"TH3":1004,"TH0123":2372},
{"t":56.5,"TH0":456,"TH1":405,"TH2":561,"TH3":977,"TH0123":2358},
{"t":59.5,"TH0":440,"TH1":387,"TH2":584,"TH3":959,"TH0123":2339},
{"t":62.5,"TH0":477,"TH1":399,"TH2":546,"TH3":993,"TH0123":2381},
{"t":65.5,"TH0":462,"TH1":416,"TH2":530,"TH3":981,"TH0123":2395},
{"t":68.5,"TH0":486,"TH1":388,"TH2":557,"TH3":965,"TH0123":2362},
{"t":71.5,"TH0":451,"TH1":401,"TH2":572,"TH3":1008,"TH0123":2348},
{"t":74.5,"TH0":475,"TH1":425,"TH2":549,"TH3":986,"TH0123":2379},
{"t":77.5,"TH0":468,"TH1":396,"TH2":536,"TH3":973,"TH0123":2405},
{"t":80.5,"TH0":444,"TH1":383,"TH2":561,"TH3":998,"TH0123":2369},
{"t":83.5,"TH0":489,"TH1":409,"TH2":578,"TH3":984,"TH0123":2387},
{"t":86.5,"TH0":463,"TH1":421,"TH2":552,"TH3":961,"TH0123":2371},
{"t":89.5,"TH0":481,"TH1":394,"TH2":540,"TH3":1005,"TH0123":2398},
{"t":92.5,"TH0":470,"TH1":408,"TH2":567,"TH3":992,"TH0123":2382},
{"t":95.5,"TH0":449,"TH1":385,"TH2":555,"TH3":1012,"TH0123":2403},
{"t":98.5,"TH0":472,"TH1":398,"TH2":560,"TH3":990,"TH0123":2402},
{"t":101.5,"TH0":465,"TH1":415,"TH2":545,"TH3":978,"TH0123":2416},
{"t":104.5,"TH0":491,"TH1":403,"TH2":578,"TH3":1001,"TH0123":2389},
{"t":107.5,"TH0":478,"TH1":388,"TH2":562,"TH3":987,"TH0123":2432},
{"t":110.5,"TH0":458,"TH1":412,"TH2":541,"TH3":1016,"TH0123":2420},
{"t":113.5,"TH0":483,"TH1":425,"TH2":570,"TH3":995,"TH0123":2401},
{"t":116.5,"TH0":496,"TH1":400,"TH2":585,"TH3":972,"TH0123":2443},
{"t":119.5,"TH0":474,"TH1":418,"TH2":556,"TH3":1009,"TH0123":2429},
{"t":122.5,"TH0":451,"TH1":391,"TH2":510,"TH3":1023,"TH0123":2395},
{"t":125.5,"TH0":470,"TH1":405,"TH2":561,"TH3":990,"TH0123":2415},
{"t":128.5,"TH0":492,"TH1":429,"TH2":580,"TH3":968,"TH0123":2447},
{"t":131.5,"TH0":481,"TH1":410,"TH2":548,"TH3":1005,"TH0123":2436},
{"t":134.5,"TH0":465,"TH1":396,"TH2":563,"TH3":994,"TH0123":2398},
{"t":137.5,"TH0":498,"TH1":422,"TH2":577,"TH3":1012,"TH0123":2428},
{"t":140.5,"TH0":476,"TH1":407,"TH2":558,"TH3":986,"TH0123":2451},
{"t":143.5,"TH0":459,"TH1":390,"TH2":544,"TH3":975,"TH0123":2417},
{"t":146.5,"TH0":487,"TH1":415,"TH2":569,"TH3":1021,"TH0123":2437},
{"t":149.5,"TH0":502,"TH1":431,"TH2":585,"TH3":999,"TH0123":2460},
{"t":152.5,"TH0":479,"TH1":403,"TH2":560,"TH3":1010,"TH0123":2426},
{"t":155.5,"TH0":466,"TH1":418,"TH2":549,"TH3":984,"TH0123":2446},
{"t":158.5,"TH0":492,"TH1":395,"TH2":574,"TH3":1027,"TH0123":2431},
{"t":161.5,"TH0":484,"TH1":426,"TH2":591,"TH3":1003,"TH0123":2455},
{"t":164.5,"TH0":471,"TH1":410,"TH2":556,"TH3":991,"TH0123":2438},
{"t":167.5,"TH0":505,"TH1":398,"TH2":568,"TH3":1018,"TH0123":2470},
{"t":170.5,"TH0":480,"TH1":373,"TH2":583,"TH3":1031,"TH0123":2448},
{"t":173.5,"TH0":463,"TH1":407,"TH2":551,"TH3":998,"TH0123":2425},
{"t":176.5,"TH0":495,"TH1":421,"TH2":572,"TH3":1012,"TH0123":2462},
{"t":179.5,"TH0":488,"TH1":435,"TH2":589,"TH3":1041,"TH0123":2476},
{"t":182.5,"TH0":470,"TH1":412,"TH2":558,"TH3":1019,"TH0123":2443},
{"t":185.5,"TH0":503,"TH1":401,"TH2":576,"TH3":996,"TH0123":2458},
{"t":188.5,"TH0":485,"TH1":428,"TH2":595,"TH3":1028,"TH0123":2481},
{"t":191.5,"TH0":474,"TH1":414,"TH2":567,"TH3":1010,"TH0123":2463},
{"t":194.5,"TH0":509,"TH1":436,"TH2":585,"TH3":1033,"TH0123":2492},
{"t":197.5,"TH0":492,"TH1":420,"TH2":574,"TH3":1018,"TH0123":2470},
{"t":200.5,"TH0":486,"TH1":418,"TH2":570,"TH3":1025,"TH0123":2479},
{"t":203.5,"TH0":479,"TH1":436,"TH2":592,"TH3":1012,"TH0123":2501},
{"t":206.5,"TH0":497,"TH1":409,"TH2":575,"TH3":1046,"TH0123":2490},
{"t":209.5,"TH0":520,"TH1":425,"TH2":558,"TH3":1031,"TH0123":2518},
{"t":212.5,"TH0":492,"TH1":443,"TH2":583,"TH3":1008,"TH0123":2495},
{"t":215.5,"TH0":481,"TH1":420,"TH2":597,"TH3":1040,"TH0123":2511},
{"t":218.5,"TH0":505,"TH1":402,"TH2":572,"TH3":1055,"TH0123":2532},
{"t":221.5,"TH0":493,"TH1":432,"TH2":586,"TH3":1026,"TH0123":2487},
{"t":224.5,"TH0":478,"TH1":419,"TH2":603,"TH3":1018,"TH0123":2509},
{"t":227.5,"TH0":511,"TH1":437,"TH2":566,"TH3":1049,"TH0123":2526},
{"t":230.5,"TH0":496,"TH1":412,"TH2":590,"TH3":1037,"TH0123":2503},
{"t":233.5,"TH0":484,"TH1":428,"TH2":578,"TH3":1013,"TH0123":2530},
{"t":236.5,"TH0":515,"TH1":450,"TH2":562,"TH3":1060,"TH0123":2517},
{"t":239.5,"TH0":502,"TH1":421,"TH2":599,"TH3":1044,"TH0123":2488},
{"t":242.5,"TH0":488,"TH1":406,"TH2":583,"TH3":1027,"TH0123":2521},
{"t":245.5,"TH0":519,"TH1":434,"TH2":570,"TH3":1053,"TH0123":2544},
{"t":248.5,"TH0":495,"TH1":426,"TH2":607,"TH3":1032,"TH0123":2505},
{"t":251.5,"TH0":480,"TH1":413,"TH2":579,"TH3":1019,"TH0123":2462},
{"t":254.5,"TH0":508,"TH1":438,"TH2":595,"TH3":1065,"TH0123":2497},
{"t":257.5,"TH0":527,"TH1":422,"TH2":568,"TH3":1048,"TH0123":2532},
{"t":260.5,"TH0":490,"TH1":409,"TH2":614,"TH3":1022,"TH0123":2519},
{"t":263.5,"TH0":512,"TH1":437,"TH2":592,"TH3":1071,"TH0123":2546},
{"t":266.5,"TH0":501,"TH1":457,"TH2":577,"TH3":1039,"TH0123":2525},
{"t":269.5,"TH0":485,"TH1":426,"TH2":603,"TH3":1058,"TH0123":2503},
{"t":272.5,"TH0":518,"TH1":414,"TH2":586,"TH3":1083,"TH0123":2558},
{"t":275.5,"TH0":506,"TH1":441,"TH2":601,"TH3":1046,"TH0123":2539},
{"t":278.5,"TH0":492,"TH1":430,"TH2":574,"TH3":1029,"TH0123":2572},
{"t":281.5,"TH0":523,"TH1":418,"TH2":616,"TH3":1074,"TH0123":2548},
{"t":284.5,"TH0":510,"TH1":446,"TH2":598,"TH3":1059,"TH0123":2526},
{"t":287.5,"TH0":534,"TH1":433,"TH2":585,"TH3":1091,"TH0123":2563},
{"t":290.5,"TH0":498,"TH1":421,"TH2":621,"TH3":1047,"TH0123":2551},
{"t":293.5,"TH0":522,"TH1":448,"TH2":604,"TH3":1068,"TH0123":2577},
{"t":296.5,"TH0":511,"TH1":438,"TH2":589,"TH3":1096,"TH0123":2560},
{"t":299.5,"TH0":508,"TH1":441,"TH2":596,"TH3":1075,"TH0123":2578},
{"t":302.5,"TH0":534,"TH1":427,"TH2":620,"TH3":1059,"TH0123":2562},
{"t":305.5,"TH0":497,"TH1":456,"TH2":605,"TH3":1093,"TH0123":2594},
{"t":308.5,"TH0":520,"TH1":439,"TH2":586,"TH3":1078,"TH0123":2617},
{"t":311.5,"TH0":541,"TH1":418,"TH2":614,"TH3":1051,"TH0123":2583},
{"t":314.5,"TH0":512,"TH1":462,"TH2":597,"TH3":1107,"TH0123":2601},
{"t":317.5,"TH0":499,"TH1":447,"TH2":631,"TH3":1092,"TH0123":2635},
{"t":320.5,"TH0":538,"TH1":431,"TH2":608,"TH3":1140,"TH0123":2598},
{"t":323.5,"TH0":521,"TH1":475,"TH2":590,"TH3":1076,"TH0123":2622},
{"t":326.5,"TH0":506,"TH1":452,"TH2":625,"TH3":1059,"TH0123":2644},
{"t":329.5,"TH0":547,"TH1":437,"TH2":613,"TH3":1113,"TH0123":2607},
{"t":332.5,"TH0":530,"TH1":459,"TH2":597,"TH3":1095,"TH0123":2631},
{"t":335.5,"TH0":514,"TH1":444,"TH2":636,"TH3":1071,"TH0123":2655},
{"t":338.5,"TH0":552,"TH1":428,"TH2":618,"TH3":1129,"TH0123":2619},
{"t":341.5,"TH0":525,"TH1":468,"TH2":602,"TH3":1104,"TH0123":2643},
{"t":344.5,"TH0":509,"TH1":453,"TH2":629,"TH3":1085,"TH0123":2668},
{"t":347.5,"TH0":541,"TH1":439,"TH2":611,"TH3":1138,"TH0123":2625},
{"t":350.5,"TH0":528,"TH1":471,"TH2":648,"TH3":1097,"TH0123":2651},
{"t":353.5,"TH0":515,"TH1":448,"TH2":620,"TH3":1114,"TH0123":2634},
{"t":356.5,"TH0":554,"TH1":433,"TH2":605,"TH3":1161,"TH0123":2662},
{"t":359.5,"TH0":532,"TH1":479,"TH2":634,"TH3":1102,"TH0123":2687},
{"t":362.5,"TH0":518,"TH1":457,"TH2":617,"TH3":1125,"TH0123":2641},
{"t":365.5,"TH0":545,"TH1":440,"TH2":601,"TH3":1088,"TH0123":2669},
{"t":368.5,"TH0":563,"TH1":468,"TH2":639,"TH3":1146,"TH0123":2702},
{"t":371.5,"TH0":527,"TH1":451,"TH2":622,"TH3":1110,"TH0123":2656},
{"t":374.5,"TH0":512,"TH1":482,"TH2":607,"TH3":1133,"TH0123":2683},
{"t":377.5,"TH0":550,"TH1":460,"TH2":645,"TH3":1097,"TH0123":2665},
{"t":380.5,"TH0":536,"TH1":444,"TH2":628,"TH3":1152,"TH0123":2712},
{"t":383.5,"TH0":521,"TH1":475,"TH2":611,"TH3":1118,"TH0123":2681},
{"t":386.5,"TH0":559,"TH1":458,"TH2":642,"TH3":1136,"TH0123":2706},
{"t":389.5,"TH0":538,"TH1":437,"TH2":625,"TH3":1101,"TH0123":2668},
{"t":392.5,"TH0":515,"TH1":469,"TH2":608,"TH3":1149,"TH0123":2737},
{"t":395.5,"TH0":546,"TH1":488,"TH2":639,"TH3":1123,"TH0123":2694},
{"t":398.5,"TH0":533,"TH1":461,"TH2":622,"TH3":1110,"TH0123":2716}
]},
"vconcat": [
{
 "width": 604, "height": 90,
 "transform": [{"fold": ["TH0"], "as": ["band", "rate"]}, {"lookup": "band", "from": {"data": {"name": "errs"}, "key": "band", "fields": ["err"]}}],
 "layer": [
  {"mark": {"type": "errorbar", "orient": "vertical", "color": "#ff0000", "opacity": 0.45, "thickness": 1, "clip": true},
   "encoding": {
    "x": {"field": "t", "type": "quantitative", "scale": {"domain": [-520, 423], "nice": false, "zero": false}, "axis": {"orient": "top", "values": [-500,-400,-300,-200,-100,0,100,200,300,400], "tickSize": -6, "labels": false, "title": null}},
    "y": {"field": "rate", "type": "quantitative", "scale": {"domain": [341, 570], "nice": false, "zero": false}, "axis": {"orient": "right", "values": [350,360,370,380,390,400,410,420,430,440,450,460,470,480,490,500,510,520,530,540,550,560], "tickSize": {"condition": {"test": "datum.value % 50 === 0", "value": -7}, "value": -4}, "labels": false, "title": "TH0", "titleX": -8, "titleY": 16, "titleAngle": 0, "titleAlign": "right", "titleBaseline": "alphabetic"}},
    "yError": {"field": "err"}}},
  {"mark": {"type": "line", "color": "#ff0000", "strokeWidth": 1, "clip": true},
   "encoding": {
    "x": {"field": "t", "type": "quantitative", "scale": {"domain": [-520, 423], "nice": false, "zero": false}, "axis": {"orient": "bottom", "values": [-500,-400,-300,-200,-100,0,100,200,300,400], "tickSize": -6, "labels": false, "title": null}},
    "y": {"field": "rate", "type": "quantitative", "scale": {"domain": [341, 570], "nice": false, "zero": false}, "axis": {"orient": "left", "values": [350,360,370,380,390,400,410,420,430,440,450,460,470,480,490,500,510,520,530,540,550,560], "tickSize": {"condition": {"test": "datum.value % 50 === 0", "value": -7}, "value": -4}, "labelExpr": "datum.value % 50 === 0 ? datum.label : ''", "labelPadding": 17, "title": null}}}}
 ],
 "resolve": {"axis": {"x": "independent", "y": "independent"}}
},
{
 "width": 604, "height": 90,
 "transform": [{"fold": ["TH1"], "as": ["band", "rate"]}, {"lookup": "band", "from": {"data": {"name": "errs"}, "key": "band", "fields": ["err"]}}],
 "layer": [
  {"mark": {"type": "errorbar", "orient": "vertical", "color": "#00ff00", "opacity": 0.45, "thickness": 1, "clip": true},
   "encoding": {
    "x": {"field": "t", "type": "quantitative", "scale": {"domain": [-520, 423], "nice": false, "zero": false}, "axis": {"orient": "top", "values": [-500,-400,-300,-200,-100,0,100,200,300,400], "tickSize": -6, "labels": false, "title": null}},
    "y": {"field": "rate", "type": "quantitative", "scale": {"domain": [302, 506], "nice": false, "zero": false}, "axis": {"orient": "right", "values": [310,320,330,340,350,360,370,380,390,400,410,420,430,440,450,460,470,480,490,500], "tickSize": {"condition": {"test": "datum.value % 50 === 0", "value": -7}, "value": -4}, "labels": false, "title": "TH1", "titleX": -9, "titleY": 16, "titleAngle": 0, "titleAlign": "right", "titleBaseline": "alphabetic"}},
    "yError": {"field": "err"}}},
  {"mark": {"type": "line", "color": "#00ff00", "strokeWidth": 1, "clip": true},
   "encoding": {
    "x": {"field": "t", "type": "quantitative", "scale": {"domain": [-520, 423], "nice": false, "zero": false}, "axis": {"orient": "bottom", "values": [-500,-400,-300,-200,-100,0,100,200,300,400], "tickSize": -6, "labels": false, "title": null}},
    "y": {"field": "rate", "type": "quantitative", "scale": {"domain": [302, 506], "nice": false, "zero": false}, "axis": {"orient": "left", "values": [310,320,330,340,350,360,370,380,390,400,410,420,430,440,450,460,470,480,490,500], "tickSize": {"condition": {"test": "datum.value % 50 === 0", "value": -7}, "value": -4}, "labelExpr": "datum.value % 50 === 0 ? datum.label : ''", "labelPadding": 17, "title": null}}}}
 ],
 "resolve": {"axis": {"x": "independent", "y": "independent"}}
},
{
 "width": 604, "height": 90,
 "transform": [{"fold": ["TH2"], "as": ["band", "rate"]}, {"lookup": "band", "from": {"data": {"name": "errs"}, "key": "band", "fields": ["err"]}}],
 "layer": [
  {"mark": {"type": "errorbar", "orient": "vertical", "color": "#0000ff", "opacity": 0.45, "thickness": 1, "clip": true},
   "encoding": {
    "x": {"field": "t", "type": "quantitative", "scale": {"domain": [-520, 423], "nice": false, "zero": false}, "axis": {"orient": "top", "values": [-500,-400,-300,-200,-100,0,100,200,300,400], "tickSize": -6, "labels": false, "title": null}},
    "y": {"field": "rate", "type": "quantitative", "scale": {"domain": [430, 667], "nice": false, "zero": false}, "axis": {"orient": "right", "values": [440,450,460,470,480,490,500,510,520,530,540,550,560,570,580,590,600,610,620,630,640,650,660], "tickSize": {"condition": {"test": "datum.value % 50 === 0", "value": -7}, "value": -4}, "labels": false, "title": "TH2", "titleX": -8, "titleY": 16, "titleAngle": 0, "titleAlign": "right", "titleBaseline": "alphabetic"}},
    "yError": {"field": "err"}}},
  {"mark": {"type": "line", "color": "#0000ff", "strokeWidth": 1, "clip": true},
   "encoding": {
    "x": {"field": "t", "type": "quantitative", "scale": {"domain": [-520, 423], "nice": false, "zero": false}, "axis": {"orient": "bottom", "values": [-500,-400,-300,-200,-100,0,100,200,300,400], "tickSize": -6, "labels": false, "title": null}},
    "y": {"field": "rate", "type": "quantitative", "scale": {"domain": [430, 667], "nice": false, "zero": false}, "axis": {"orient": "left", "values": [440,450,460,470,480,490,500,510,520,530,540,550,560,570,580,590,600,610,620,630,640,650,660], "tickSize": {"condition": {"test": "datum.value % 50 === 0", "value": -7}, "value": -4}, "labelExpr": "datum.value % 50 === 0 ? datum.label : ''", "labelPadding": 17, "title": "Counts/sec", "titleX": -72, "titleY": 45, "titleAngle": 270, "titleBaseline": "top", "titleAlign": "center"}}}}
 ],
 "resolve": {"axis": {"x": "independent", "y": "independent"}}
},
{
 "width": 604, "height": 90,
 "transform": [{"fold": ["TH3"], "as": ["band", "rate"]}, {"lookup": "band", "from": {"data": {"name": "errs"}, "key": "band", "fields": ["err"]}}],
 "layer": [
  {"mark": {"type": "errorbar", "orient": "vertical", "color": "#00ffff", "opacity": 0.45, "thickness": 1, "clip": true},
   "encoding": {
    "x": {"field": "t", "type": "quantitative", "scale": {"domain": [-520, 423], "nice": false, "zero": false}, "axis": {"orient": "top", "values": [-500,-400,-300,-200,-100,0,100,200,300,400], "tickSize": -6, "labels": false, "title": null}},
    "y": {"field": "rate", "type": "quantitative", "scale": {"domain": [790, 1183], "nice": false, "zero": false}, "axis": {"orient": "right", "values": [800,820,840,860,880,900,920,940,960,980,1000,1020,1040,1060,1080,1100,1120,1140,1160,1180], "tickSize": {"condition": {"test": "datum.value % 100 === 0", "value": -7}, "value": -4}, "labels": false, "title": "TH3", "titleX": -8, "titleY": 16, "titleAngle": 0, "titleAlign": "right", "titleBaseline": "alphabetic"}},
    "yError": {"field": "err"}}},
  {"mark": {"type": "line", "color": "#00ffff", "strokeWidth": 1, "clip": true},
   "encoding": {
    "x": {"field": "t", "type": "quantitative", "scale": {"domain": [-520, 423], "nice": false, "zero": false}, "axis": {"orient": "bottom", "values": [-500,-400,-300,-200,-100,0,100,200,300,400], "tickSize": -6, "labels": false, "title": null}},
    "y": {"field": "rate", "type": "quantitative", "scale": {"domain": [790, 1183], "nice": false, "zero": false}, "axis": {"orient": "left", "values": [800,820,840,860,880,900,920,940,960,980,1000,1020,1040,1060,1080,1100,1120,1140,1160,1180], "format": "d", "tickSize": {"condition": {"test": "datum.value % 100 === 0", "value": -7}, "value": -4}, "labelExpr": "datum.value % 100 === 0 ? datum.label : ''", "labelPadding": 17, "title": null}}}}
 ],
 "resolve": {"axis": {"x": "independent", "y": "independent"}}
},
{
 "width": 604, "height": 90,
 "transform": [{"fold": ["TH0123"], "as": ["band", "rate"]}, {"lookup": "band", "from": {"data": {"name": "errs"}, "key": "band", "fields": ["err"]}}],
 "layer": [
  {"mark": {"type": "errorbar", "orient": "vertical", "color": "#ff00ff", "opacity": 0.45, "thickness": 1, "clip": true},
   "encoding": {
    "x": {"field": "t", "type": "quantitative", "scale": {"domain": [-520, 423], "nice": false, "zero": false}, "axis": {"orient": "top", "values": [-500,-400,-300,-200,-100,0,100,200,300,400], "tickSize": -6, "labels": false, "title": null}},
    "y": {"field": "rate", "type": "quantitative", "scale": {"domain": [2001, 2806], "nice": false, "zero": false}, "axis": {"orient": "right", "values": [2100,2200,2300,2400,2500,2600,2700,2800], "tickSize": {"condition": {"test": "datum.value % 200 === 0", "value": -7}, "value": -4}, "labels": false, "title": "TH0123", "titleX": -3, "titleY": 15, "titleAngle": 0, "titleAlign": "right", "titleBaseline": "alphabetic"}},
    "yError": {"field": "err"}}},
  {"mark": {"type": "line", "color": "#ff00ff", "strokeWidth": 1, "clip": true},
   "encoding": {
    "x": {"field": "t", "type": "quantitative", "scale": {"domain": [-520, 423], "nice": false, "zero": false}, "axis": {"orient": "bottom", "values": [-500,-400,-300,-200,-100,0,100,200,300,400], "tickSize": -6, "labels": true, "labelExpr": "datum.value % 200 === 0 ? datum.label : ''", "labelPadding": 13, "title": "Time [sec] 0 = 2006/11/07 17:41:16", "titleX": 171, "titleY": 33, "titleAlign": "left", "titleBaseline": "alphabetic"}},
    "y": {"field": "rate", "type": "quantitative", "scale": {"domain": [2001, 2806], "nice": false, "zero": false}, "axis": {"orient": "left", "values": [2100,2200,2300,2400,2500,2600,2700,2800], "format": "d", "tickSize": {"condition": {"test": "datum.value % 200 === 0", "value": -7}, "value": -4}, "labelExpr": "datum.value % 200 === 0 ? datum.label : ''", "labelPadding": 17, "title": null}}}}
 ],
 "resolve": {"axis": {"x": "independent", "y": "independent"}}
}
],
"config": {
 "font": "Liberation Sans",
 "view": {"stroke": "#000000", "strokeWidth": 1.2},
 "concat": {"spacing": 0},
 "axis": {"domain": false, "grid": false, "tickColor": "#000000", "tickWidth": 1, "labelColor": "#000000", "labelFont": "Liberation Sans", "labelFontSize": 14, "labelOverlap": false, "labelBound": false, "labelFlush": false, "titleFont": "Liberation Sans", "titleFontSize": 15, "titleFontWeight": "normal", "titleColor": "#000000"},
 "title": {"font": "Liberation Sans", "fontWeight": "normal", "color": "#000000", "fontSize": 15}
}
}
